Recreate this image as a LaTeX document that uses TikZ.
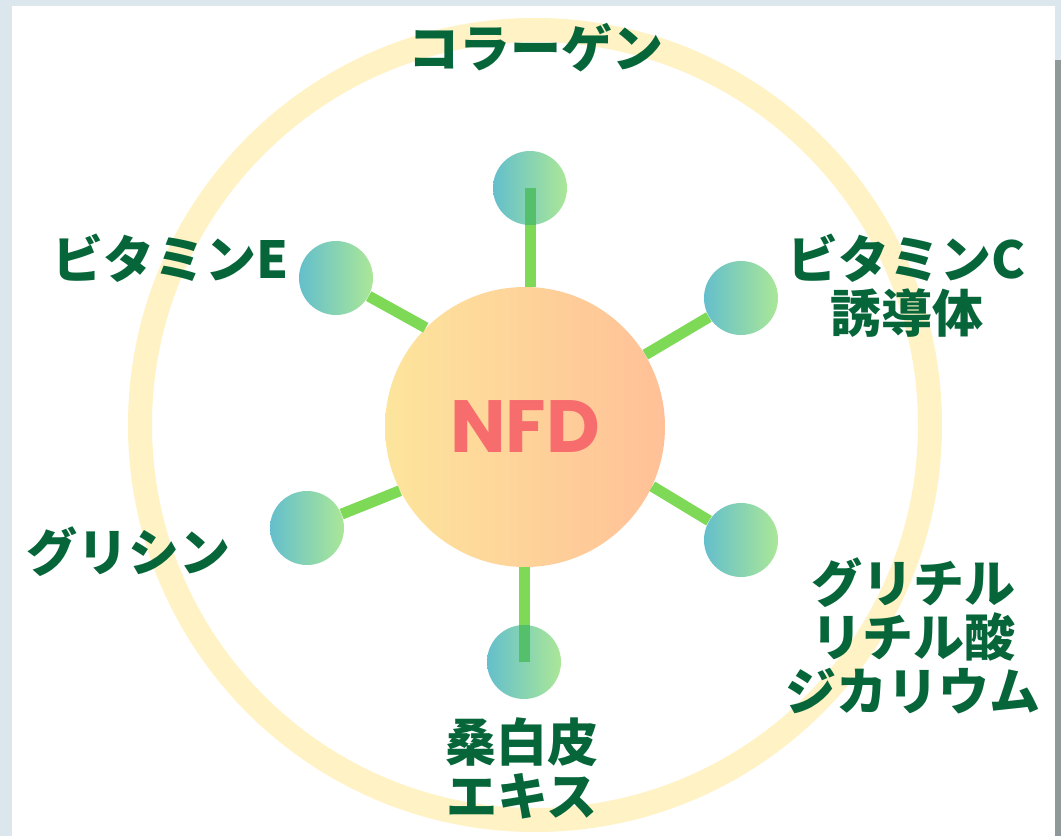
\documentclass[tikz,border=0pt]{standalone}
\usepackage{fontspec}
\usepackage{tikz}
\usetikzlibrary{positioning}
\newfontfamily\jpfont{Noto Sans CJK JP}[BoldFont={Noto Sans CJK JP Black}]
\newfontfamily\nfdfont{Poppins}
\definecolor{ringyellow}{HTML}{FFF2C4}
\definecolor{hubleft}{HTML}{FDE59C}
\definecolor{hubright}{HTML}{FFC097}
\definecolor{dotleft}{HTML}{64BFCC}
\definecolor{dotright}{HTML}{ABE798}
\definecolor{linkgreen}{HTML}{7ED957}
\definecolor{linkdark}{HTML}{55C06C}
\definecolor{labelgreen}{HTML}{06663A}
\definecolor{nfdred}{HTML}{F76D6D}
\definecolor{frameblue}{HTML}{DCE7ED}
\definecolor{framegray}{HTML}{8F999A}
\tikzstyle{hubblock} = [circle, minimum size=140pt, inner sep=0pt, left color=hubleft, right color=hubright, text=nfdred, font=\nfdfont\bfseries\fontsize{37}{40}\selectfont]
\tikzstyle{dot} = [circle, minimum size=37pt, inner sep=0pt, left color=dotleft, right color=dotright]
\tikzstyle{tag} = [inner sep=0pt, align=center, text=labelgreen, font=\jpfont\bfseries\fontsize{25.5}{27}\selectfont]
\tikzstyle{link} = [draw=linkgreen, line width=5.5pt]

\begin{document}
\begin{tikzpicture}[x=0.5pt, y=-0.5pt]
				\useasboundingbox (0,0) rectangle (1061,836);
				% Frame and ring
				\fill[frameblue] (0,0) rectangle (1061,836);
				\fill[white] (12,6) rectangle (1055,836);
				\fill[framegray] (1055,60) rectangle (1061,836);
				\draw[ringyellow, line width=12pt] (535,425) circle (395);
				% Place nodes
				\node [hubblock] (hub) at (525,427) {NFD};
				\node [dot] (collagen) at (530,188) {};
				\node [dot] (vitE) at (336,278) {};
				\node [dot] (vitC) at (741,298) {};
				\node [dot] (glycine) at (307,528) {};
				\node [dot] (glycyr) at (741,540) {};
				\node [dot] (sohaku) at (524,662) {};
				\node [tag] (collagentag) at (536,48) {コラーゲン};
				\node [tag] (vitEtag) at (171,258) {ビタミンE};
				\node [tag] (vitCtag) at (907,286) {ビタミンC\\誘導体};
				\node [tag] (glycinetag) at (128,552) {グリシン};
				\node [tag] (glycyrtag) at (913,636) {グリチル\\リチル酸\\ジカリウム};
				\node [tag] (sohakutag) at (522,768) {桑白皮\\エキス};
				% Connectors
				\path [link] (collagen.south) -- (collagen.south |- hub.north);
				\path [link, draw=linkdark] (collagen.center) -- (collagen.south);
				\path [link] (sohaku.north) -- (sohaku.north |- hub.south);
				\path [link, draw=linkdark] (sohaku.center) -- (sohaku.north);
				\path [link] (hub.135) -- (vitE);
				\path [link] (hub.31) -- (vitC);
				\path [link] (hub.207) -- (glycine);
				\path [link] (hub.335) -- (glycyr);
\end{tikzpicture}
\end{document}
